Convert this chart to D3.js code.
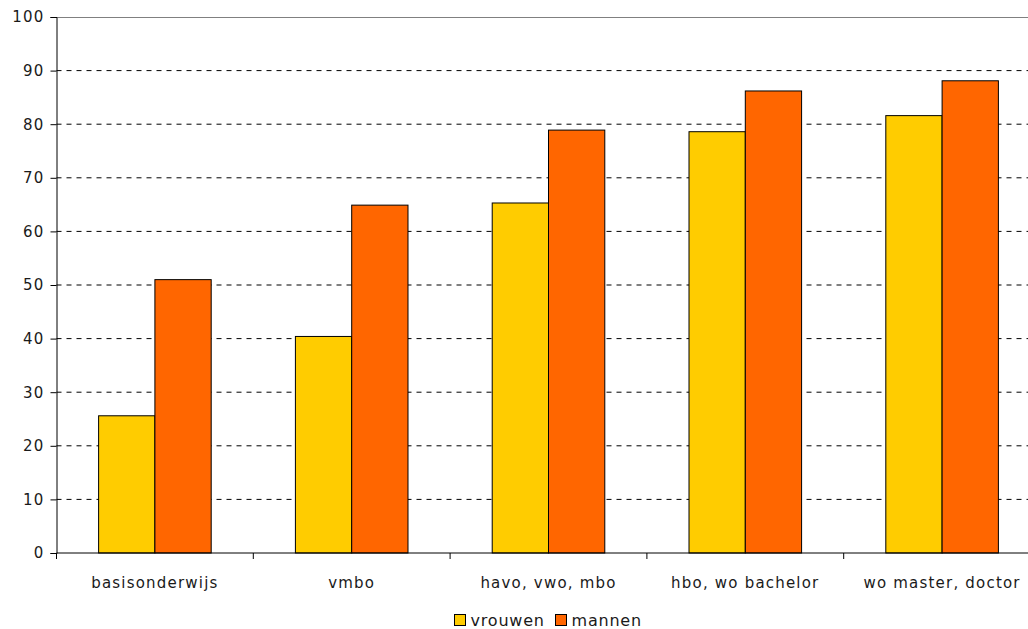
<!DOCTYPE html>
<html>
<head>
<meta charset="utf-8">
<script src="https://cdn.jsdelivr.net/npm/d3@7"></script>
<style>
  html, body { margin: 0; padding: 0; background: #fff; }
  svg { display: block; }
  text { font-family: "DejaVu Sans", Verdana, sans-serif; fill: #1a1a1a; }
</style>
</head>
<body>
<svg id="chart" width="1028" height="629"></svg>
<script>
const categories = ["basisonderwijs", "vmbo", "havo, vwo, mbo", "hbo, wo bachelor", "wo master, doctor"];
const seriesNames = ["vrouwen", "mannen"];
const vrouwen = [25.6, 40.4, 65.3, 78.6, 81.6];
const mannen = [51.0, 64.9, 78.9, 86.2, 88.1];
const yTicks = [0, 10, 20, 30, 40, 50, 60, 70, 80, 90, 100];
const colors = ["#FFCC00", "#FF6600"];

const svg = d3.select("#chart");
const plotLeft = 56.5, plotBottom = 553, plotTop = 17;
const bandW = 196.8;
const axisFont = "15px", axisLs = "1.2px";

const y = d3.scaleLinear().domain([0, 100]).range([plotBottom, plotTop]);
const x = d3.scaleBand().domain(categories).range([plotLeft, plotLeft + bandW * categories.length]).padding(0);
const xs = d3.scaleBand().domain(seriesNames).range([0, x.bandwidth()]).paddingInner(0).paddingOuter(0.748);
const color = d3.scaleOrdinal().domain(seriesNames).range(colors);

// gridlines
svg.append("g").selectAll("line")
  .data(yTicks.filter(t => t > 0 && t < 100))
  .join("line")
  .attr("x1", plotLeft).attr("x2", 1028)
  .attr("y1", d => y(d)).attr("y2", d => y(d))
  .attr("stroke", "#000").attr("stroke-width", 1)
  .attr("stroke-dasharray", "5,5");

// top border
svg.append("line")
  .attr("x1", plotLeft).attr("x2", 1028)
  .attr("y1", y(100) + 0.5).attr("y2", y(100) + 0.5)
  .attr("stroke", "#808080").attr("stroke-width", 1);

// bars
const rows = categories.map((c, i) => ({ cat: c, values: [vrouwen[i], mannen[i]] }));
const groups = svg.append("g").selectAll("g")
  .data(rows).join("g")
  .attr("transform", d => `translate(${x(d.cat)},0)`);
groups.selectAll("rect")
  .data(d => d.values.map((v, j) => ({ s: seriesNames[j], v })))
  .join("rect")
  .attr("x", d => xs(d.s))
  .attr("width", xs.bandwidth())
  .attr("y", d => y(d.v))
  .attr("height", d => y(0) - y(d.v))
  .attr("fill", d => color(d.s))
  .attr("stroke", "#000").attr("stroke-width", 1);

// y axis
const yAxis = d3.axisLeft(y).tickValues(yTicks).tickSize(6).tickPadding(6);
const gy = svg.append("g").attr("transform", `translate(${plotLeft},0)`).call(yAxis);
gy.select(".domain").attr("stroke", "#000");
gy.selectAll(".tick line").attr("stroke", "#000");
gy.selectAll(".tick text").style("font-size", axisFont).style("letter-spacing", axisLs)
  .style("font-family", "DejaVu Sans").attr("fill", "#1a1a1a");

// x axis
const xAxis = d3.axisBottom(x).tickSize(0).tickPadding(24);
const gx = svg.append("g").attr("transform", `translate(0,${plotBottom})`).call(xAxis);
gx.select(".domain").remove();
gx.append("line").attr("x1", plotLeft).attr("x2", 1028).attr("y1", 0).attr("y2", 0).attr("stroke", "#000");
gx.selectAll(".tick text").style("font-size", axisFont).style("letter-spacing", axisLs)
  .style("font-family", "DejaVu Sans").attr("fill", "#1a1a1a");
const bounds = categories.map(c => x(c)).concat([x(categories[categories.length - 1]) + x.bandwidth()]);
gx.selectAll(".bound").data(bounds).join("line").attr("class", "bound")
  .attr("x1", d => d).attr("x2", d => d).attr("y1", 0).attr("y2", 6).attr("stroke", "#000");

// legend
const legend = svg.append("g").attr("transform", "translate(454,614)");
const legX = [0, 101];
seriesNames.forEach((s, i) => {
  const g = legend.append("g").attr("transform", `translate(${legX[i]},0)`);
  g.append("rect").attr("x", 0.5).attr("y", 0.5).attr("width", 11).attr("height", 11)
    .attr("fill", colors[i]).attr("stroke", "#000");
  g.append("text").attr("x", 16.5).attr("y", 12).text(s)
    .style("font-size", "16px").style("letter-spacing", "0.8px");
});
</script>
</body>
</html>
